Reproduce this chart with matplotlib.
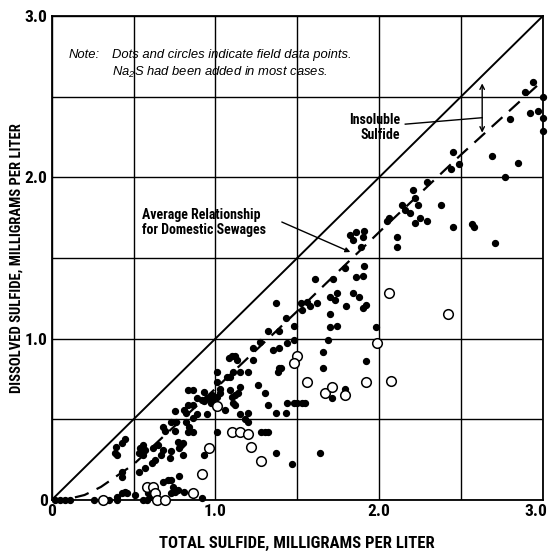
import numpy as np
import matplotlib
matplotlib.use('Agg')
import matplotlib.pyplot as plt
from matplotlib import font_manager
from matplotlib.transforms import ScaledTranslation

# field data points (total sulfide, dissolved sulfide), mg/L
dot_x = [0.02, 0.05, 0.08, 0.11, 0.26, 0.35, 0.40, 0.40, 0.43, 0.45, 0.46, 0.43, 0.43, 0.385, 0.40, 0.39, 0.43, 0.45, 0.51,
         0.54, 0.56, 0.57, 0.53, 0.56, 0.62, 0.65, 0.68, 0.69, 0.73, 0.75, 0.81, 0.82, 0.83, 0.86, 0.89, 0.82, 0.84, 0.86, 0.83,
         0.77, 0.79, 0.78, 0.80, 0.73, 0.72, 0.68, 0.67, 0.83, 0.86, 0.93, 0.92, 0.93, 0.95, 0.97, 0.98, 0.89, 0.86, 0.95, 0.76,
         0.75, 0.73, 0.74, 0.75, 0.73, 0.77, 0.81, 0.92, 0.78, 0.80, 0.93, 0.59, 0.60, 0.56, 0.58, 0.53, 0.57, 0.61, 0.63, 0.68, 0.71,
         1.01, 1.03, 1.03, 1.01, 0.98, 1.01, 1.07, 1.09, 1.11, 1.15, 1.20, 1.08, 1.10, 1.12, 1.13, 1.09, 1.12, 1.15, 1.14, 1.10,
         1.11, 1.06, 1.12, 1.15, 1.18, 1.20, 1.20, 1.01, 1.23, 1.26, 1.30, 1.32, 1.37, 1.43, 1.44, 1.48, 1.50, 1.53, 1.55, 1.28,
         1.30, 1.32, 1.37, 1.47, 1.27, 1.23, 1.35, 1.39, 1.40, 1.39, 1.38, 1.44, 1.48, 1.32, 1.39, 1.48, 1.43, 1.37,
         1.52, 1.56, 1.53, 1.58, 1.62, 1.61, 1.72, 1.70, 1.74, 1.73, 1.70, 1.80, 1.79, 1.86, 1.90, 1.91, 1.84, 1.88, 1.92, 1.90,
         1.70, 1.74, 1.69, 1.98, 1.66, 1.66, 1.92, 1.71, 1.79, 1.64, 1.82, 1.84, 1.86, 1.91, 1.90, 1.89,
         2.11, 2.11, 2.14, 2.16, 2.19, 2.22, 2.06, 2.05, 2.21, 2.22, 2.24, 2.25, 2.29, 2.29, 2.38, 2.45, 2.44, 2.49, 2.45, 2.57,
         2.58, 2.71, 2.69, 2.85, 2.77, 2.80, 2.89, 2.94, 3.00, 2.92, 2.97, 3.00, 3.00]
dot_y = [0.00, 0.00, 0.00, 0.00, 0.00, 0.00, 0.00, 0.02, 0.04, 0.05, 0.04, 0.17, 0.14, 0.29, 0.28, 0.33, 0.35, 0.38, 0.03,
         0.32, 0.34, 0.31, 0.29, 0.28, 0.32, 0.34, 0.45, 0.43, 0.48, 0.55, 0.56, 0.54, 0.59, 0.51, 0.53, 0.48, 0.45, 0.42, 0.42,
         0.36, 0.34, 0.32, 0.35, 0.30, 0.26, 0.31, 0.28, 0.68, 0.68, 0.67, 0.62, 0.61, 0.63, 0.60, 0.61, 0.63, 0.59, 0.53, 0.48,
         0.43, 0.12, 0.08, 0.05, 0.04, 0.06, 0.05, 0.01, 0.15, 0.28, 0.28, 0.04, 0.02, 0.00, 0.00, 0.17, 0.20, 0.23, 0.25, 0.11, 0.12,
         0.73, 0.69, 0.66, 0.64, 0.65, 0.79, 0.76, 0.76, 0.79, 0.79, 0.79, 0.88, 0.89, 0.89, 0.87, 0.68, 0.65, 0.70, 0.66, 0.64,
         0.60, 0.56, 0.59, 0.53, 0.50, 0.48, 0.54, 0.42, 0.87, 0.71, 0.66, 0.59, 0.54, 0.54, 0.60, 0.60, 0.60, 0.60, 0.60, 0.42,
         0.42, 0.42, 0.29, 0.22, 0.98, 0.94, 0.93, 0.94, 0.82, 0.82, 0.79, 0.97, 0.99, 1.05, 1.05, 1.08, 1.13, 1.22,
         1.22, 1.23, 1.18, 1.20, 1.22, 1.37, 1.37, 1.26, 1.28, 1.24, 1.15, 1.20, 1.44, 1.38, 1.39, 1.45, 1.28, 1.26, 1.21, 1.19,
         1.07, 1.08, 0.99, 1.07, 0.92, 0.82, 0.86, 0.63, 0.69, 0.29, 1.64, 1.61, 1.66, 1.67, 1.63, 1.57,
         1.63, 1.57, 1.83, 1.80, 1.78, 1.72, 1.75, 1.73, 1.92, 1.87, 1.83, 1.75, 1.97, 1.73, 1.83, 2.16, 2.05, 2.08, 1.69, 1.71,
         1.69, 1.59, 2.13, 2.09, 2.00, 2.36, 2.53, 2.59, 2.50, 2.40, 2.41, 2.37, 2.29]

circ_x = [0.31, 0.58, 0.62, 0.63, 0.64, 0.69, 0.86, 0.92, 0.96, 1.01, 1.10, 1.15, 1.20, 1.22, 1.28,
          1.50, 1.48, 1.56, 1.67, 1.71, 1.79, 1.92, 2.07, 1.99, 2.06, 2.42]
circ_y = [0.00, 0.08, 0.08, 0.04, 0.00, 0.00, 0.04, 0.16, 0.32, 0.58, 0.42, 0.42, 0.41, 0.33, 0.24,
          0.89, 0.85, 0.73, 0.66, 0.70, 0.65, 0.73, 0.74, 0.97, 1.28, 1.15]

# average relationship for domestic sewages (dashed curve)
avg_x = [0.0, 0.1, 0.2, 0.3, 0.4, 0.5, 0.7, 1.0, 1.5, 2.0, 2.5, 3.0]
avg_y = [0.0, 0.005, 0.03, 0.08, 0.15, 0.22, 0.41, 0.69, 1.17, 1.66, 2.14, 2.60]

# pick a narrow sans if one is around
have = {f.name for f in font_manager.fontManager.ttflist}
narrow = 'DejaVu Sans'
for cand in ['Liberation Sans Narrow', 'DejaVu Sans Condensed', 'Roboto Condensed', 'Open Sans Condensed']:
    if cand in have:
        narrow = cand
        break
plt.rcParams['font.family'] = [narrow, 'DejaVu Sans']
plt.rcParams['font.stretch'] = 'condensed'
note_font = ['Liberation Sans', 'DejaVu Sans']

fig = plt.figure(figsize=(5.51, 5.56), dpi=100)
ax = fig.add_axes([0.094, 0.101, 0.891, 0.870])

ax.plot([0, 3], [0, 3], color='black', linewidth=1.4)
ax.plot(avg_x, avg_y, color='black', linewidth=1.6, dashes=(6.5, 4))
ax.scatter(dot_x, dot_y, s=18, color='black', zorder=3, clip_on=False)
ax.scatter(circ_x, circ_y, s=48, facecolors='white', edgecolors='black', linewidths=1.1, zorder=3, clip_on=False)

ax.set_xlim(0, 3)
ax.set_ylim(0, 3)
ticks = np.arange(0, 3.01, 0.5)
labs = ['0', '', '1.0', '', '2.0', '', '3.0']
ax.set_xticks(ticks)
ax.set_xticklabels(labs, fontweight='bold')
ax.set_yticks(ticks)
ax.set_yticklabels(labs, fontweight='bold')
ax.tick_params(length=0, labelsize=12.5, pad=3)
# last x label sits a bit left so it stays on the page
lab = ax.get_xticklabels()[-1]
lab.set_transform(lab.get_transform() + ScaledTranslation(-5 / 72, 0, fig.dpi_scale_trans))
ax.grid(color='black', linewidth=1.0)
ax.set_axisbelow(True)
for s in ax.spines.values():
    s.set_linewidth(1.3)

ax.set_xlabel('TOTAL SULFIDE, MILLIGRAMS PER LITER', fontsize=12, fontweight='bold', labelpad=12)
ax.set_ylabel('DISSOLVED SULFIDE, MILLIGRAMS PER LITER', fontsize=10.5, fontweight='bold', labelpad=1)

# note
ax.text(0.10, 2.76, 'Note:', fontsize=9.4, style='italic', family=note_font, va='center')
ax.text(0.37, 2.76, 'Dots and circles indicate field data points.', fontsize=9.4,
        style='italic', family=note_font, va='center')
ax.text(0.37, 2.65, r'Na$\mathregular{_2}$S had been added in most cases.', fontsize=9.4,
        style='italic', family=note_font, va='center')

# insoluble sulfide
ax.annotate('', xy=(2.63, 2.60), xytext=(2.63, 2.26),
            arrowprops=dict(arrowstyle='<->', color='black', lw=1.0, mutation_scale=8))
ax.text(2.13, 2.31, 'Insoluble\nSulfide', fontsize=10, ha='right', va='center',
        multialignment='right', fontweight='semibold', linespacing=1.15)
ax.plot([2.16, 2.63], [2.33, 2.37], color='black', linewidth=1.0)

# average relationship label
ax.text(0.55, 1.72, 'Average Relationship\nfor Domestic Sewages', fontsize=10, ha='left', va='center',
        fontweight='semibold', linespacing=1.15)
ax.annotate('', xy=(1.84, 1.53), xytext=(1.39, 1.73),
            arrowprops=dict(arrowstyle='-|>', color='black', lw=1.0, mutation_scale=7))

fig.savefig('out.png', dpi=100)
